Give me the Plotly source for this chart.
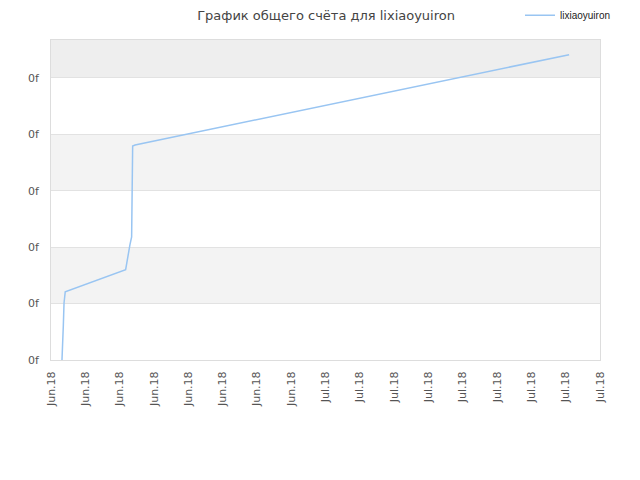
import plotly.graph_objects as go

# score history (y in arbitrary units, every tick is labelled "0f")
dates = [
    "2018-06-16 15:22", "2018-06-16 15:40", "2018-06-16 16:19", "2018-06-16 17:17",
    "2018-06-16 18:14", "2018-06-16 19:12", "2018-06-16 19:55",
    "2018-06-20 08:24", "2018-06-20 09:50", "2018-06-20 12:00", "2018-06-20 14:24",
    "2018-06-20 16:48", "2018-06-20 17:46", "2018-06-20 18:14", "2018-06-20 21:36",
    "2018-07-16 04:48",
]
scores = [0.0, 0.21, 0.41, 0.62, 1.01, 1.2, 1.21,
          1.6, 1.72, 1.9, 2.04, 2.18, 2.98, 3.79, 3.81, 5.41]

x_ticks = ["2018-06-16", "2018-06-18", "2018-06-20", "2018-06-22", "2018-06-24",
           "2018-06-26", "2018-06-28", "2018-06-30", "2018-07-02", "2018-07-04",
           "2018-07-06", "2018-07-08", "2018-07-10", "2018-07-12", "2018-07-14",
           "2018-07-16", "2018-07-18"]
x_labels = ["Jun.18"] * 8 + ["Jul.18"] * 9
y_ticks = [0, 1, 2, 3, 4, 5]
y_labels = ["0f"] * 6
y_top = 5.67

fig = go.Figure()

fig.add_trace(go.Scatter(
    x=dates,
    y=scores,
    mode="lines",
    name="lixiaoyuiron",
    line=dict(color="#99c5f2", width=1.5),
))

# alternating bands
bands = [(1, 2, "#f3f3f3"), (3, 4, "#f3f3f3"), (5, y_top, "#eeeeee")]
for y0, y1, col in bands:
    fig.add_shape(type="rect", xref="paper", yref="y", x0=0, x1=1, y0=y0, y1=y1,
                  fillcolor=col, line_width=0, layer="below")

# page body adds 8px offset, so margins are shifted to compensate
fig.update_layout(
    width=640,
    height=480,
    margin=dict(l=43, r=48, t=32, b=128, autoexpand=False),
    paper_bgcolor="white",
    plot_bgcolor="white",
    font=dict(family="DejaVu Sans", size=11, color="#555555"),
    title=dict(text="График общего счёта для lixiaoyuiron", x=0.497, xanchor="center",
               y=0.985, yanchor="middle", font=dict(size=13, color="#444444")),
    showlegend=True,
    legend=dict(xref="container", yref="container", x=0.95, y=0.985,
                xanchor="right", yanchor="middle", itemwidth=30,
                font=dict(family="Liberation Sans", size=10, color="#222222"),
                bgcolor="rgba(0,0,0,0)"),
)

fig.update_xaxes(
    type="date",
    range=[x_ticks[0], x_ticks[-1]],
    tickmode="array",
    tickvals=x_ticks,
    ticktext=x_labels,
    tickangle=-90,
    ticklabelstandoff=6,
    showgrid=False,
    zeroline=False,
    showline=True,
    linecolor="#dddddd",
    mirror=True,
    ticks="",
)

fig.update_yaxes(
    range=[0, y_top],
    tickmode="array",
    tickvals=y_ticks,
    ticktext=y_labels,
    ticklabelstandoff=9,
    showgrid=True,
    gridcolor="#e2e2e2",
    zeroline=False,
    showline=True,
    linecolor="#dddddd",
    mirror=True,
    ticks="",
)

fig.write_html("out.html")
